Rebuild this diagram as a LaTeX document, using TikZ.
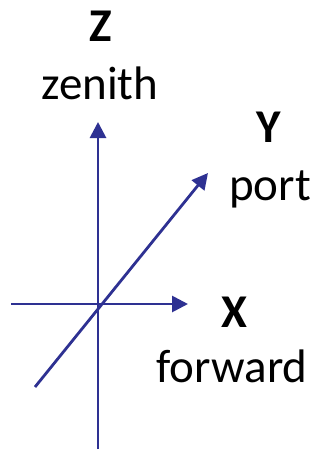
\documentclass[tikz,border=0pt]{standalone}
\usepackage{fontspec}
\setmainfont{Carlito}
\usetikzlibrary{arrows.meta}
\definecolor{axisblue}{RGB}{46,49,146}
\begin{document}
\begin{tikzpicture}[x=1pt,y=-1pt,
  axis/.style={draw=axisblue,line width=2.8pt,-{Triangle[length=16pt,width=16pt]}},
  lab/.style={anchor=base,inner sep=0pt,font=\fontsize{47}{50}\selectfont}]
\useasboundingbox (0,0) rectangle (320,450);
% axis end points
\coordinate (zb) at (98,449);
\coordinate (zt) at (98,122);
\coordinate (xl) at (11,304);
\coordinate (xr) at (188,304);
\coordinate (yb) at (35,387);
\coordinate (yt) at (208,173);
\draw[axis] (zb) -- (zt);
\draw[axis] (xl) -- (xr);
\draw[axis] (yb) -- (yt);
% labels
\node[lab] (zl) at (101,41) {\textbf{Z}};
\node[lab] (zn) at (100,99) {zenith};
\node[lab] (yl) at (269,142) {\textbf{Y}};
\node[lab] (yn) at (270,200) {port};
\node[lab] (xlb) at (234,327) {\textbf{X}};
\node[lab] (xn) at (232,382) {forward};
\end{tikzpicture}
\end{document}
